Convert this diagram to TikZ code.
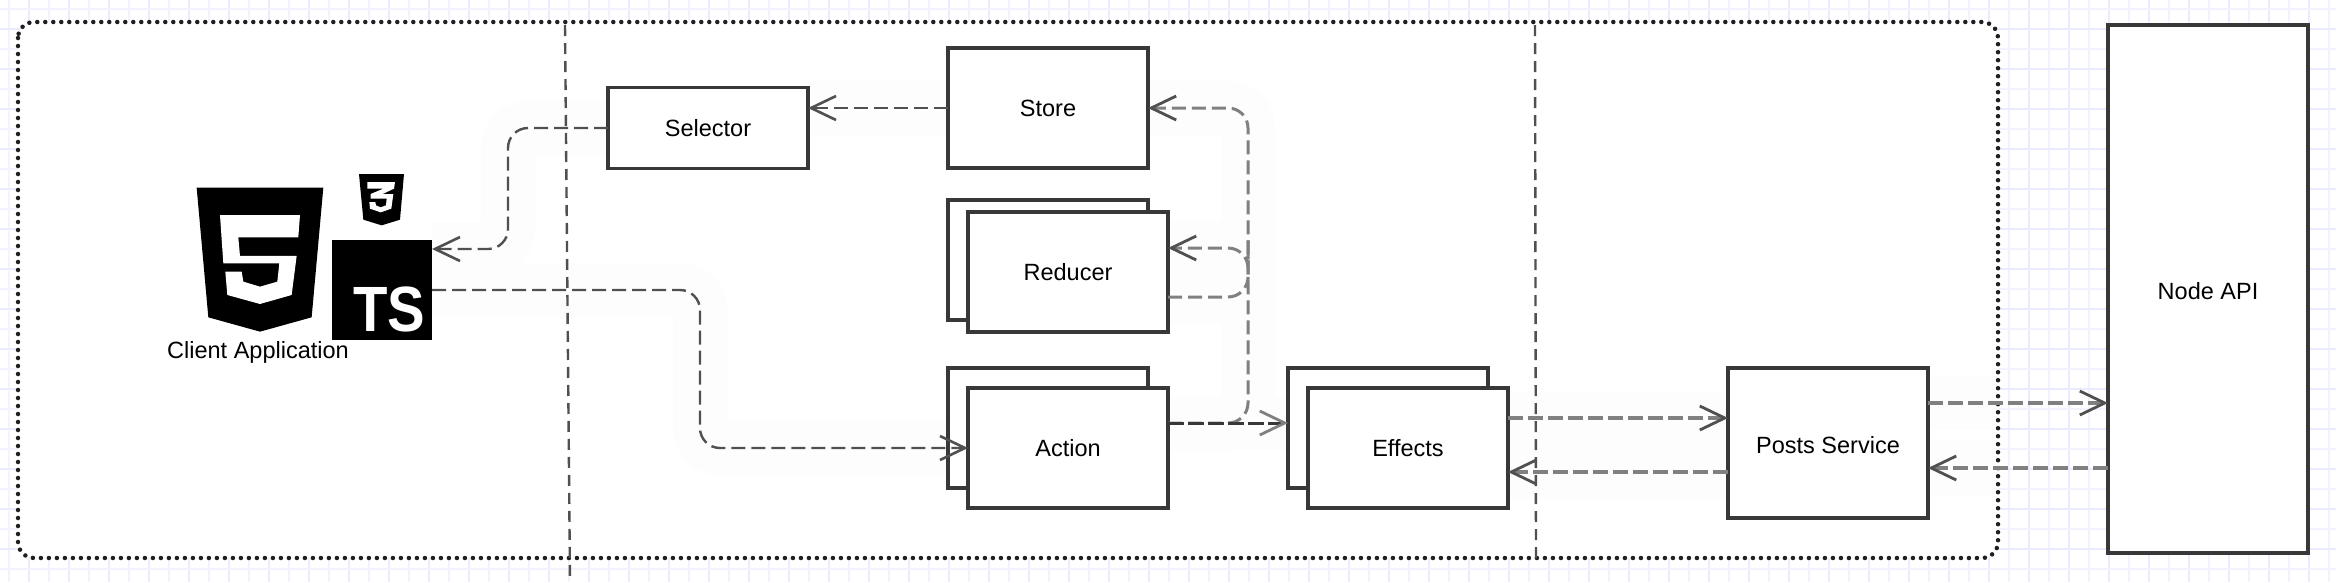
\documentclass[tikz,border=0pt]{standalone}
\usepackage{fontspec}
\setmainfont{Liberation Sans}
\usetikzlibrary{arrows.meta}
\definecolor{boxline}{HTML}{383838}
\definecolor{thinline}{HTML}{505050}
\definecolor{greyline}{HTML}{808080}
\definecolor{gridminor}{HTML}{F3F3FF}
\definecolor{gridmajor}{HTML}{EBEBFF}
\definecolor{halocol}{HTML}{FDFDFD}
\pgfdeclarelayer{bg}
\pgfdeclarelayer{halo}
\pgfsetlayers{bg,halo,main}
\tikzset{
  lbl/.style={font=\fontsize{23.5}{28}\selectfont,text=black},
  block/.style={draw=boxline,line width=3.5pt,fill=white,inner sep=0pt,outer sep=0pt,lbl},
  b200x120/.style={block,minimum width=200pt,minimum height=120pt},
  conn/.style={draw=thinline,line width=2.4pt,dash pattern=on 14pt off 6pt,rounded corners=20pt,
    -{Straight Barb[length=25pt,width=24pt,line width=2.6pt]}},
  conngrey/.style={conn,draw=greyline,line width=3.8pt,dash pattern=on 15pt off 5pt,
    -{Straight Barb[length=25pt,width=24pt,line width=2.8pt,color=thinline]}},
  connmid/.style={conn,draw=greyline,line width=3pt,
    -{Straight Barb[length=25pt,width=24pt,line width=2.8pt,color=thinline]}},
  connback/.style={conn,draw=boxline,line width=3pt,dash pattern=on 16pt off 4pt,
    -{Straight Barb[length=25pt,width=24pt,line width=2.8pt,color=greyline]}},
  divider/.style={draw=thinline,line width=2.4pt,dash pattern=on 11pt off 7pt},
  halostyle/.style={draw=halocol,line width=54pt,line join=round,rounded corners=20pt},
  frame/.style={draw=black!88,line width=4.5pt,dash pattern=on 0pt off 8pt,line cap=round,rounded corners=16pt},
  logo/.style={fill=black,draw=none},
  logoinner/.style={fill=white,draw=none},
}
\newcommand{\conn}[2]{%
  \begin{pgfonlayer}{halo}
    \begin{scope}
      \clip[rounded corners=16pt] (18,22) rectangle (1998,558);
      \draw[halostyle] #2;
    \end{scope}
  \end{pgfonlayer}
  \draw[#1] #2;}
\begin{document}
\begin{tikzpicture}[x=1pt,y=-1pt]
\useasboundingbox (0,0) rectangle (2336,582);
\begin{pgfonlayer}{bg}
  \fill[white] (0,0) rectangle (2336,582);
  \foreach \v in {9,49,...,2329} \draw[gridminor,line width=1.4pt] (\v,0) -- (\v,582);
  \foreach \v in {29,69,...,2309} \draw[gridmajor,line width=1.8pt] (\v,0) -- (\v,582);
  \foreach \v in {9,49,...,569} \draw[gridminor,line width=1.4pt] (0,\v) -- (2336,\v);
  \foreach \v in {29,69,...,569} \draw[gridmajor,line width=1.8pt] (0,\v) -- (2336,\v);
  \fill[white,rounded corners=16pt] (18,22) rectangle (1998,558);
\end{pgfonlayer}
\draw[frame] (18,22) rectangle (1998,558);

% dividers
\coordinate (d1a) at (565,25);
\coordinate (d1b) at (570,582);
\coordinate (d2a) at (1535,25);
\coordinate (d2b) at (1536,558);
\draw[divider] (d1a) -- (d1b);
\draw[divider] (d2a) -- (d2b);

% HTML5 logo
\begin{scope}[shift={(140,150)},x=0.3333pt,y=-0.3333pt]
  \fill[logo] (170,113) -- (550,113) -- (515,502) -- (360,545) -- (205,502) -- cycle;
  \fill[logoinner] (240,195) -- (480,195) -- (475,262) -- (295,262) -- (300,318) -- (470,318)
    -- (455,435) -- (360,462) -- (262,435) -- (256,365) -- (305,365) -- (310,395) -- (360,410)
    -- (412,395) -- (418,340) -- (250,340) -- cycle;
\end{scope}
% CSS3 logo
\begin{scope}[shift={(350,168)},x=0.3333pt,y=-0.3333pt]
  \fill[logo] (27,18) -- (162,18) -- (150,155) -- (95,172) -- (40,155) -- cycle;
  \fill[logoinner] (52,42) -- (135,42) -- (132,62) -- (98,78) -- (130,78) -- (124,122) -- (92,133)
    -- (60,122) -- (58,102) -- (76,102) -- (78,112) -- (92,118) -- (108,112) -- (110,92) -- (62,92)
    -- (62,78) -- (100,62) -- (52,62) -- cycle;
\end{scope}

% boxes
\node[b200x120] (store) at (1048,108) {Store};
\node[b200x120] (reducerback) at (1048,260) {};
\node[b200x120] (reducer) at (1068,272) {Reducer};
\node[b200x120] (actionback) at (1048,428) {};
\node[b200x120] (action) at (1068,448) {Action};
\node[b200x120] (effectsback) at (1388,428) {};
\node[b200x120] (effects) at (1408,448) {Effects};
\node[block,minimum width=200pt,minimum height=81pt] (selector) at (708,128) {Selector};
\node[block,minimum width=200pt,minimum height=150pt,text height=21pt,text depth=0pt] (posts) at (1828,443) {Posts Service};
\node[block,minimum width=200pt,minimum height=528pt,text height=21pt,text depth=0pt] (api) at (2208,289) {Node API};
\node[fill=black,draw=none,minimum width=100pt,minimum height=100pt,inner sep=0pt,outer sep=0pt] (ts) at (382,290) {};
\node[inner sep=0pt,text=white,font=\fontsize{64}{64}\selectfont\bfseries] (tstext) at (389,309) {\scalebox{0.88}[1]{TS}};
\node[lbl,inner sep=0pt] (client) at (258,352) {Client Application};

% connectors
\coordinate (selbend) at (508,188);
\coordinate (tsin) at ([yshift=41pt]ts.east);
\coordinate (actbend) at (700,370);
\coordinate (busv) at (1248,260);
\coordinate (actout) at ([yshift=25pt]action.east);
\coordinate (redout) at ([yshift=-25pt]reducer.east);
\coordinate (redin) at ([yshift=24pt]reducer.east);
\coordinate (effout) at ([yshift=30pt]effects.east);
\coordinate (effin) at ([yshift=-24pt]effects.east);
\coordinate (postsin) at ([yshift=25pt]posts.west);
\coordinate (postsout) at ([yshift=-29pt]posts.west);
\coordinate (postsapi) at ([yshift=40pt]posts.east);
\coordinate (apipost) at ([yshift=-25pt]posts.east);

\conn{conn}{(store.west) -- (selector.east |- store.west)}
\conn{conn}{(selector.west) -| (selbend) |- (tsin)}
\conn{conn}{(ts.east) -| (actbend) |- (action.west)}
\conn{connmid}{(actout) -| (busv) |- (store.east)}
\conn{connmid}{(redout) -| (busv) |- (redin)}
\conn{connback}{(actout) -- (effectsback.west |- actout)}
\conn{conngrey}{(effout) -- (effout -| postsin)}
\conn{conngrey}{(postsout) -- (postsout -| effin)}
\conn{conngrey}{(postsapi) -- (api.west |- postsapi)}
\conn{conngrey}{(api.west |- apipost) -- (apipost)}
\end{tikzpicture}
\end{document}
